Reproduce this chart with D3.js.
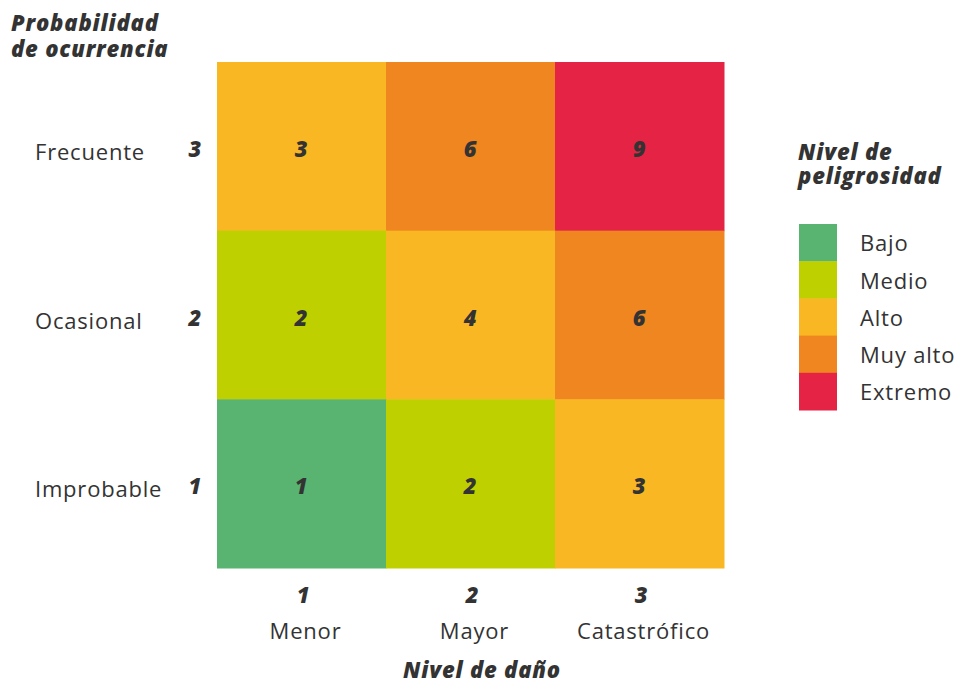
<!DOCTYPE html>
<html>
<head>
<meta charset="utf-8">
<script src="https://cdn.jsdelivr.net/npm/d3@7"></script>
<style>
  body { margin: 0; background: #fff; }
  text { font-family: "Open Sans", sans-serif; fill: #333; font-size: 22px; letter-spacing: 0.8px; }
  .bold { font-weight: 800; font-style: italic; }
</style>
</head>
<body>
<div id="chart"></div>
<script>
// Matrix data (rows listed from top to bottom)
const damageLevels = ["1", "2", "3"];
const damageLabels = ["Menor", "Mayor", "Catastrófico"];
const probLevels = ["3", "2", "1"];
const probLabels = ["Frecuente", "Ocasional", "Improbable"];
const cellValues = [
  [3, 6, 9],
  [2, 4, 6],
  [1, 2, 3]
];
const cellLevels = [
  ["Alto", "Muy alto", "Extremo"],
  ["Medio", "Alto", "Muy alto"],
  ["Bajo", "Medio", "Alto"]
];
const dangerLevels = ["Bajo", "Medio", "Alto", "Muy alto", "Extremo"];
const dangerColors = ["#58b470", "#bfd000", "#f9b823", "#f0861f", "#e52445"];

const width = 960, height = 685;
const gridLeft = 217, gridRight = 724, gridTop = 62, gridBottom = 568;

const svg = d3.select("#chart").append("svg")
  .attr("width", width)
  .attr("height", height);

const x = d3.scaleBand().domain(damageLevels).range([gridLeft, gridRight]);
const y = d3.scaleBand().domain(probLevels).range([gridTop, gridBottom]);
const color = d3.scaleOrdinal().domain(dangerLevels).range(dangerColors);

// flatten cells
const cells = [];
probLevels.forEach((p, i) => {
  damageLevels.forEach((d, j) => {
    cells.push({ prob: p, damage: d, value: cellValues[i][j], level: cellLevels[i][j] });
  });
});

const cell = svg.selectAll(".cell")
  .data(cells)
  .enter()
  .append("g")
  .attr("class", "cell");

cell.append("rect")
  .attr("x", d => x(d.damage))
  .attr("y", d => y(d.prob))
  .attr("width", x.bandwidth() + 0.5)
  .attr("height", y.bandwidth() + 0.5)
  .attr("fill", d => color(d.level));

cell.append("text")
  .attr("class", "bold")
  .attr("x", d => x(d.damage) + x.bandwidth() / 2)
  .attr("y", d => y(d.prob) + y.bandwidth() / 2 + 3)
  .attr("dy", "0.35em")
  .attr("text-anchor", "middle")
  .text(d => d.value);

// Y axis: labels and numbers
const rows = svg.selectAll(".row")
  .data(probLevels)
  .enter()
  .append("g")
  .attr("class", "row");

rows.append("text")
  .attr("x", 35)
  .attr("y", d => y(d) + y.bandwidth() / 2 + 6)
  .attr("dy", "0.35em")
  .text((d, i) => probLabels[i]);

rows.append("text")
  .attr("class", "bold")
  .attr("x", 202)
  .attr("y", d => y(d) + y.bandwidth() / 2 + 3)
  .attr("dy", "0.35em")
  .attr("text-anchor", "end")
  .text(d => d);

// X axis: numbers and labels
const cols = svg.selectAll(".col")
  .data(damageLevels)
  .enter()
  .append("g")
  .attr("class", "col");

cols.append("text")
  .attr("class", "bold")
  .attr("x", d => x(d) + x.bandwidth() / 2 + 2)
  .attr("y", 603)
  .attr("text-anchor", "middle")
  .text(d => d);

cols.append("text")
  .attr("x", d => x(d) + x.bandwidth() / 2 + 4)
  .attr("y", 639)
  .attr("text-anchor", "middle")
  .text((d, i) => damageLabels[i]);

// Axis titles
svg.append("text")
  .attr("class", "bold")
  .attr("x", 482)
  .attr("y", 678)
  .attr("text-anchor", "middle")
  .text("Nivel de daño");

svg.append("text")
  .attr("class", "bold")
  .attr("x", 11)
  .attr("y", 31)
  .text("Probabilidad");
svg.append("text")
  .attr("class", "bold")
  .attr("x", 11)
  .attr("y", 57)
  .text("de ocurrencia");

// Legend
svg.append("text")
  .attr("class", "bold")
  .attr("x", 798)
  .attr("y", 160)
  .text("Nivel de");
svg.append("text")
  .attr("class", "bold")
  .attr("x", 798)
  .attr("y", 184)
  .text("peligrosidad");

const ly = d3.scaleBand().domain(dangerLevels).range([224, 410]);

const legend = svg.selectAll(".legend")
  .data(dangerLevels)
  .enter()
  .append("g")
  .attr("class", "legend");

legend.append("rect")
  .attr("x", 799)
  .attr("y", d => ly(d))
  .attr("width", 38)
  .attr("height", ly.bandwidth() + 0.5)
  .attr("fill", d => color(d));

legend.append("text")
  .attr("x", 860)
  .attr("y", d => ly(d) + ly.bandwidth() / 2 + 1)
  .attr("dy", "0.35em")
  .text(d => d);
</script>
</body>
</html>
